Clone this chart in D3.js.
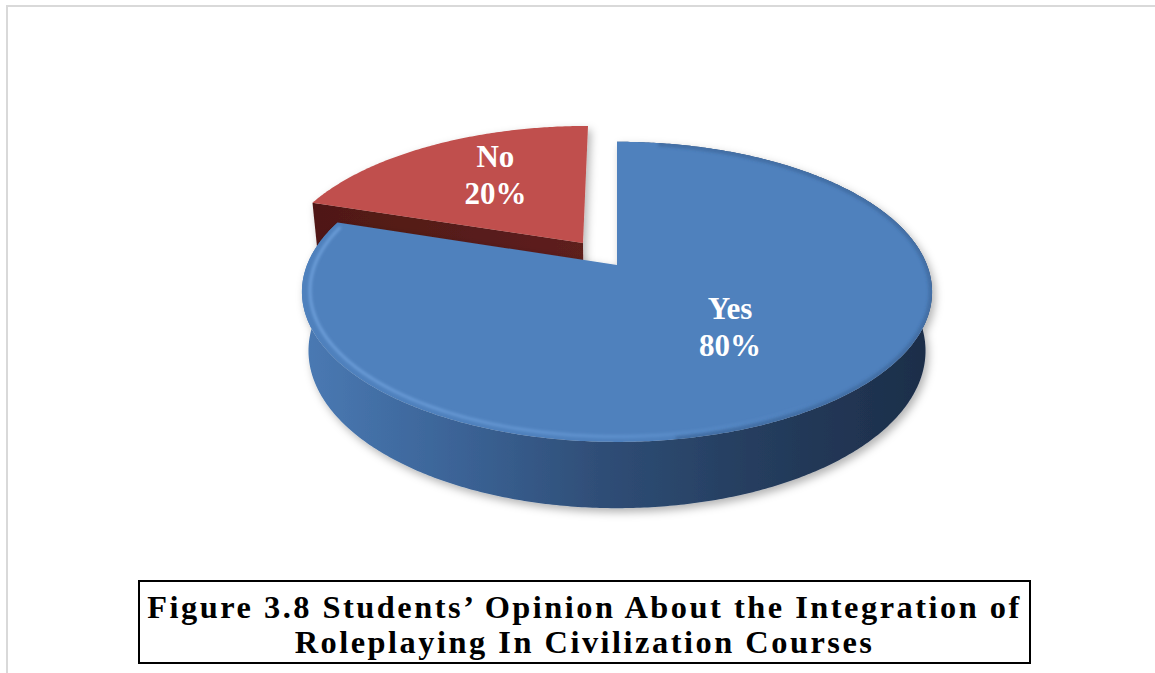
<!DOCTYPE html>
<html>
<head>
<meta charset="utf-8">
<script src="https://cdn.jsdelivr.net/npm/d3@7"></script>
<style>
  html, body { margin: 0; padding: 0; background: #ffffff; }
  svg { display: block; }
</style>
</head>
<body>
<svg id="chart" width="1155" height="673"></svg>
<script>
// ---- data ----
const categories = ["Yes", "No"];
const values = [80, 20];
const sliceColors = ["#4f81bd", "#c0504d"];
const explodeBy = [0, 0.192];           // radial pull-out, as a fraction of the radius
const captionLines = [
  "Figure 3.8 Students\u2019 Opinion About the Integration of",
  "Roleplaying In Civilization Courses"
];

// ---- 3D camera for the pie (unit radius disc, Y up, Z toward viewer) ----
const cx = 617, cy = 265, A = 310;
const sinT = 0.4686, cosT = Math.sqrt(1 - sinT * sinT), Dn = 4.94;
const kz = cosT / Dn, ky = sinT / Dn;
const thickness = 0.217;
const labelRadius = 0.56;

function project(X, Y, Z) {
  const d = 1 - kz * Z - ky * Y;
  return [cx + A * X / d, cy + A * (Z * sinT - Y * cosT) / d];
}

const svg = d3.select("#chart");
const defs = svg.append("defs");

// chart area frame
svg.append("rect")
  .attr("x", 7).attr("y", 6).attr("width", 1170).attr("height", 700)
  .attr("fill", "none").attr("stroke", "#d9d9d9").attr("stroke-width", 2);

// soft outer shadow
const sh = defs.append("filter").attr("id", "shadow")
  .attr("x", "-10%").attr("y", "-10%").attr("width", "120%").attr("height", "130%");
sh.append("feGaussianBlur").attr("in", "SourceAlpha").attr("stdDeviation", 4.5).attr("result", "b");
sh.append("feOffset").attr("in", "b").attr("dx", 3).attr("dy", 4).attr("result", "o");
sh.append("feFlood").attr("flood-color", "#000").attr("flood-opacity", 0.3).attr("result", "c");
sh.append("feComposite").attr("in", "c").attr("in2", "o").attr("operator", "in").attr("result", "s");
const mg = sh.append("feMerge");
mg.append("feMergeNode").attr("in", "s");
mg.append("feMergeNode").attr("in", "SourceGraphic");

const blur = defs.append("filter").attr("id", "soft");
blur.append("feGaussianBlur").attr("stdDeviation", 1.8);

// side shading of the blue slice, light on the left, dark on the right
const sideGrad = defs.append("linearGradient").attr("id", "sideBlue")
  .attr("gradientUnits", "userSpaceOnUse").attr("x1", 300).attr("x2", 935).attr("y1", 0).attr("y2", 0);
[[0, "#4a7ab4"], [0.25, "#3b6396"], [0.47, "#2f4e77"], [0.72, "#253d5e"], [1, "#1c2d48"]]
  .forEach(([o, c]) => sideGrad.append("stop").attr("offset", o).attr("stop-color", c));

const rimGlow = defs.append("linearGradient").attr("id", "rimGlow")
  .attr("gradientUnits", "userSpaceOnUse").attr("x1", 300).attr("x2", 820).attr("y1", 0).attr("y2", 0);
rimGlow.append("stop").attr("offset", 0).attr("stop-color", "#7fb0ea").attr("stop-opacity", 0.75);
rimGlow.append("stop").attr("offset", 0.6).attr("stop-color", "#76a9e6").attr("stop-opacity", 0.5);
rimGlow.append("stop").attr("offset", 1).attr("stop-color", "#76a9e6").attr("stop-opacity", 0);

const faceRed = defs.append("linearGradient").attr("id", "faceRed")
  .attr("gradientUnits", "userSpaceOnUse").attr("x1", 300).attr("x2", 590).attr("y1", 0).attr("y2", 0);
faceRed.append("stop").attr("offset", 0).attr("stop-color", "#4f1816");
faceRed.append("stop").attr("offset", 1).attr("stop-color", "#5e201d");

// ---- slices ----
const pie = d3.pie().sort(null).value(d => d.value);
const slices = pie(categories.map((c, i) => ({ category: c, value: values[i] })));
slices.forEach((s, i) => {
  const mid = (s.startAngle + s.endAngle) / 2;
  s.mid = mid;
  s.ox = explodeBy[i] * Math.sin(mid);
  s.oz = -explodeBy[i] * Math.cos(mid);
  s.color = sliceColors[i];
});

const line = d3.line();
function rim(s, r, Y, a0, a1) {
  const n = Math.max(8, Math.ceil(Math.abs(a1 - a0) / 0.01));
  return d3.range(n + 1).map(k => {
    const a = a0 + (a1 - a0) * k / n;
    return project(s.ox + r * Math.sin(a), Y, s.oz - r * Math.cos(a));
  });
}
function point(s, r, Y, a) {
  return project(s.ox + r * Math.sin(a), Y, s.oz - r * Math.cos(a));
}
function topPath(s) {
  return line([project(s.ox, 0, s.oz), ...rim(s, 1, 0, s.startAngle, s.endAngle)]) + "Z";
}

const yes = slices[0], no = slices[1];

// back slice first (No), then the front slice (Yes)
const gNo = svg.append("g").attr("filter", "url(#shadow)");
// radial face on the start edge, facing front-left
gNo.append("path")
  .attr("d", line([
    project(no.ox, 0, no.oz),
    point(no, 1, 0, no.startAngle),
    point(no, 1, -thickness, no.startAngle),
    project(no.ox, -thickness, no.oz)
  ]) + "Z")
  .attr("fill", "url(#faceRed)");
gNo.append("path").attr("d", topPath(no)).attr("fill", no.color);

const gYes = svg.append("g").attr("filter", "url(#shadow)");
const topYes = rim(yes, 1, 0, yes.startAngle, yes.endAngle);
const botYes = rim(yes, 1, -thickness, yes.startAngle, yes.endAngle).reverse();
gYes.append("path").attr("d", line([...topYes, ...botYes]) + "Z").attr("fill", "url(#sideBlue)");
gYes.append("path").attr("d", topPath(yes)).attr("fill", yes.color);

// bevel on the blue top: light rim on the front-left, darker roll-off on the right
defs.append("clipPath").attr("id", "clipYes").append("path").attr("d", topPath(yes));
const bevel = svg.append("g").attr("clip-path", "url(#clipYes)");
bevel.append("path")
  .attr("d", line(rim(yes, 1.0, 0, Math.PI * 0.05, Math.PI * 0.95)))
  .attr("fill", "none").attr("stroke", "#2c5281").attr("stroke-opacity", 0.4)
  .attr("stroke-width", 7).attr("filter", "url(#soft)");
bevel.append("path")
  .attr("d", line(rim(yes, 0.975, 0, Math.PI * 0.55, yes.endAngle - 0.03)))
  .attr("fill", "none").attr("stroke", "url(#rimGlow)")
  .attr("stroke-width", 2.5).attr("filter", "url(#soft)");

// ---- data labels ----
const labelG = svg.append("g")
  .attr("font-family", "'Liberation Serif', 'Times New Roman', serif")
  .attr("font-weight", "bold").attr("font-size", 31)
  .attr("fill", "#ffffff").attr("text-anchor", "middle");
slices.forEach(s => {
  const [lx, ly] = point(s, labelRadius, 0, s.mid);
  labelG.append("text").attr("x", lx + 2).attr("y", ly - 18).text(s.data.category);
  labelG.append("text").attr("x", lx + 2).attr("y", ly + 19).text(s.data.value + "%");
});

// ---- caption box ----
const box = { x0: 139, y0: 581, x1: 1030, y1: 663 };
svg.append("rect")
  .attr("x", box.x0).attr("y", box.y0)
  .attr("width", box.x1 - box.x0).attr("height", box.y1 - box.y0)
  .attr("fill", "#ffffff").attr("stroke", "#000000").attr("stroke-width", 2);

const capX = (box.x0 + box.x1) / 2;
const capBaselines = [618, 653];
const capTexts = captionLines.map((t, i) => svg.append("text")
  .attr("font-family", "'Liberation Serif', 'Times New Roman', serif")
  .attr("font-weight", "bold").attr("font-size", 31)
  .attr("letter-spacing", "2.4px")
  .attr("fill", "#000000").attr("text-anchor", "middle")
  .attr("transform", `translate(${capX},${capBaselines[i]})`)
  .text(t));
// narrow the caption lettering so the first line spans the box
const natural = capTexts[0].node().getBBox().width;
const sxCap = 875 / natural;
capTexts.forEach((t, i) => t.attr("transform", `translate(${capX},${capBaselines[i]}) scale(${sxCap},1)`));
</script>
</body>
</html>
